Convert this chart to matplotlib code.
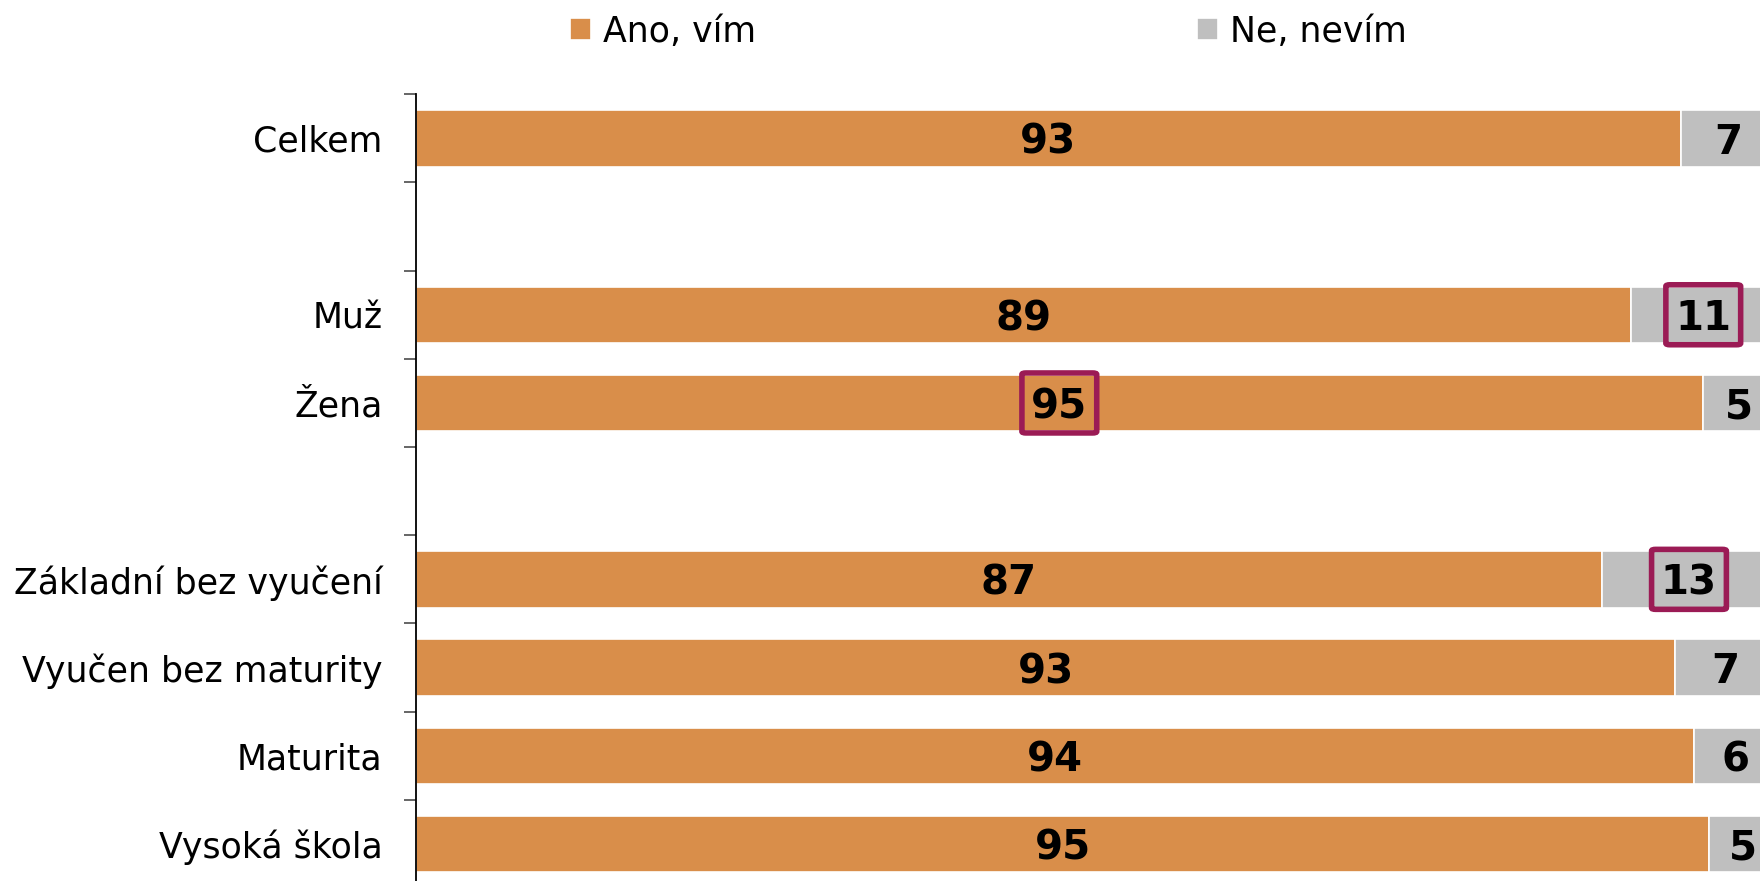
import matplotlib.pyplot as plt
import matplotlib.patches as patches
from matplotlib.ticker import FixedLocator, NullFormatter, FixedFormatter

# data (Ano = yes, Ne = no), percent; None rows are spacer slots
categories = ["Celkem", None, "Muž", "Žena", None,
              "Základní bez vyučení", "Vyučen bez maturity", "Maturita", "Vysoká škola"]
ano = [93.0, None, 89.3, 94.6, None, 87.2, 92.6, 94.0, 95.1]
ne = [7.0, None, 10.7, 5.4, None, 12.8, 7.4, 6.0, 4.9]
legend_labels = ["Ano, vím", "Ne, nevím"]
# which labels get the highlight box: (row, series)
highlights = [(2, 1), (3, 0), (5, 1)]

c_ano = "#D98E4A"
c_ne = "#BFBFBF"
c_box = "#9B1B55"

fig = plt.figure(figsize=(17.6, 8.81), dpi=100)
ax = fig.add_axes([0.2364, -0.008, 0.7727, 0.901])

rows = [i for i, c in enumerate(categories) if c is not None]
a_vals = [ano[i] for i in rows]
n_vals = [ne[i] for i in rows]

h = 0.64
b1 = ax.barh(rows, a_vals, height=h, color=c_ano, edgecolor="white", linewidth=1.2)
b2 = ax.barh(rows, n_vals, left=a_vals, height=h, color=c_ne, edgecolor="white", linewidth=1.2)

for i, a, n in zip(rows, a_vals, n_vals):
    for s, (x, txt) in enumerate([(a / 2, round(a)), (a + n / 2, round(n))]):
        ax.text(x, i, str(txt), ha="center", va="center_baseline", fontsize=29,
                fontweight="heavy", color="black")
        if (i, s) in highlights:
            w, hh = 5.5, 0.68
            ax.add_patch(patches.FancyBboxPatch((x - w / 2, i - hh / 2), w, hh,
                                                boxstyle="round,pad=0,rounding_size=0.3",
                                                mutation_aspect=0.06,
                                                facecolor="none", edgecolor=c_box,
                                                linewidth=4, zorder=5))

ax.set_xlim(0, 100)
ax.set_ylim(len(categories) - 0.5, -0.5)
ax.xaxis.set_visible(False)
for sp in ["top", "right", "bottom"]:
    ax.spines[sp].set_visible(False)
ax.spines["left"].set_linewidth(1.3)

# tick marks at slot boundaries, labels at slot centres
ax.yaxis.set_major_locator(FixedLocator([k - 0.5 for k in range(len(categories) + 1)]))
ax.yaxis.set_major_formatter(NullFormatter())
ax.yaxis.set_minor_locator(FixedLocator(rows))
ax.yaxis.set_minor_formatter(FixedFormatter([categories[i] for i in rows]))
ax.tick_params(axis="y", which="major", length=9, width=1.3, color="#595959")
ax.tick_params(axis="y", which="minor", length=0, pad=24, labelsize=25)

fig.legend([b1, b2], legend_labels, loc="upper left", bbox_to_anchor=(0.306, 1.019),
           ncol=2, frameon=False, fontsize=25, handlelength=0.6, handleheight=0.6,
           handletextpad=0.35, columnspacing=12.7)

fig.savefig("out.png", dpi=100)
